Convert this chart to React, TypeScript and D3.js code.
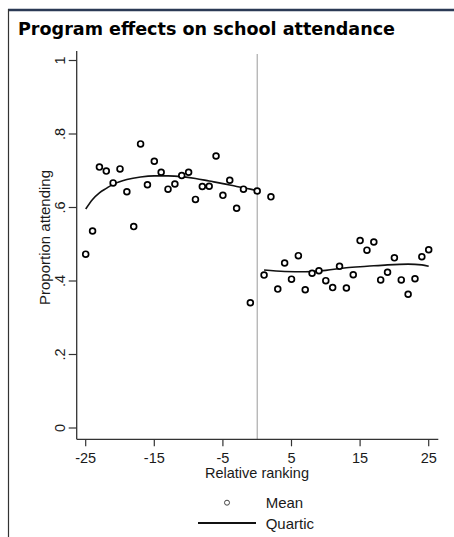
import React from 'react';
import * as d3 from 'd3';

// rank groups and mean attendance
const leftRanks = [-25, -24, -23, -22, -21, -20, -19, -18, -17, -16, -15, -14, -13, -12, -11, -10, -9, -8, -7, -6, -5, -4, -3, -2, -1, 0];
const leftMeans = [0.473, 0.536, 0.71, 0.699, 0.667, 0.705, 0.643, 0.548, 0.773, 0.662, 0.726, 0.696, 0.65, 0.664, 0.687, 0.696, 0.622, 0.657, 0.658, 0.74, 0.633, 0.674, 0.598, 0.65, 0.341, 0.645];

const rightRanks = [1, 2, 3, 4, 5, 6, 7, 8, 9, 10, 11, 12, 13, 14, 15, 16, 17, 18, 19, 20, 21, 22, 23, 24, 25];
const rightMeans = [0.416, 0.629, 0.378, 0.449, 0.405, 0.469, 0.376, 0.421, 0.428, 0.401, 0.382, 0.44, 0.381, 0.417, 0.51, 0.484, 0.506, 0.403, 0.424, 0.463, 0.403, 0.364, 0.406, 0.466, 0.485];

// quartic fit, sampled from the drawn curves
const fitLeftRanks = [-25, -24, -23, -22, -21, -19, -17, -15, -13, -11, -9, -7, -5, -3, -1, 0];
const fitLeftVals = [0.596, 0.622, 0.64, 0.652, 0.663, 0.676, 0.683, 0.686, 0.686, 0.684, 0.679, 0.672, 0.665, 0.657, 0.65, 0.646];
const fitRightRanks = [1, 4, 7, 10, 13, 16, 19, 22, 24, 25];
const fitRightVals = [0.43, 0.426, 0.425, 0.429, 0.436, 0.44, 0.444, 0.446, 0.444, 0.44];

const xTicks = [-25, -15, -5, 5, 15, 25];
const yTicks = [0, 0.2, 0.4, 0.6, 0.8, 1];
const yTickLabels = ['0', '.2', '.4', '.6', '.8', '1'];

const W = 454, H = 537;
const FONT = '"Liberation Sans", Arial, sans-serif';
const INK = '#1a1a1a';

export default function App() {
    const x = d3.scaleLinear().domain([-25, 25]).range([85.7, 428.7]);
    const y = d3.scaleLinear().domain([0, 1]).range([428, 60.5]);

    const plotLeft = 76.7, plotRight = 438.3, plotTop = 51, plotBottom = 439.3;

    const line = d3.line<[number, number]>()
        .x(d => x(d[0]))
        .y(d => y(d[1]))
        .curve(d3.curveMonotoneX);

    const leftPts = leftRanks.map((r, i) => [r, leftMeans[i]] as [number, number]);
    const rightPts = rightRanks.map((r, i) => [r, rightMeans[i]] as [number, number]);
    const fitL = fitLeftRanks.map((r, i) => [r, fitLeftVals[i]] as [number, number]);
    const fitR = fitRightRanks.map((r, i) => [r, fitRightVals[i]] as [number, number]);

    return (
        <svg width={W} height={H} style={{ position: 'absolute', left: 0, top: 0, background: '#fff' }}>
            {/* panel frame */}
            <line x1={8} x2={W} y1={10} y2={10} stroke="#2b3a55" strokeWidth={2.5} />
            <line x1={8.5} x2={8.5} y1={9} y2={H} stroke="#333" strokeWidth={1.2} />

            <text x={18} y={35} fontFamily='"DejaVu Sans", Verdana, sans-serif' fontWeight="bold"
                fontSize={18} textLength={377} lengthAdjust="spacingAndGlyphs" fill="#000">
                Program effects on school attendance
            </text>

            {/* cutoff */}
            <line x1={x(0)} x2={x(0)} y1={plotTop + 3} y2={plotBottom} stroke="#9a9a9a" strokeWidth={1} />

            {/* axes */}
            <line x1={plotLeft} x2={plotLeft} y1={plotTop} y2={plotBottom} stroke="#333" strokeWidth={1.3} />
            <line x1={plotLeft} x2={plotRight} y1={plotBottom} y2={plotBottom} stroke="#333" strokeWidth={1.3} />

            {xTicks.map(t => (
                <g key={t}>
                    <line x1={x(t)} x2={x(t)} y1={plotBottom} y2={plotBottom + 7} stroke="#333" strokeWidth={1.2} />
                    <text x={x(t)} y={462.5} textAnchor="middle" fontFamily={FONT} fontSize={14.5} fill={INK}>{t}</text>
                </g>
            ))}
            {yTicks.map((t, i) => (
                <g key={t}>
                    <line x1={plotLeft - 8} x2={plotLeft} y1={y(t)} y2={y(t)} stroke="#333" strokeWidth={1.2} />
                    <text transform={`translate(65, ${y(t)}) rotate(-90)`} textAnchor="middle"
                        fontFamily={FONT} fontSize={14.5} fill={INK}>{yTickLabels[i]}</text>
                </g>
            ))}

            <text x={257} y={477.5} textAnchor="middle" fontFamily={FONT} fontSize={14.5} fill={INK}>Relative ranking</text>
            <text transform="translate(49.5, 237.5) rotate(-90)" textAnchor="middle"
                fontFamily={FONT} fontSize={15} fill={INK}>Proportion attending</text>

            {/* fitted quartics */}
            <path d={line(fitL) || ''} fill="none" stroke="#111" strokeWidth={1.6} />
            <path d={line(fitR) || ''} fill="none" stroke="#111" strokeWidth={1.6} />

            {/* bin means */}
            {leftPts.concat(rightPts).map((d, i) => (
                <circle key={i} cx={x(d[0])} cy={y(d[1])} r={2.9} fill="#fff" stroke="#000" strokeWidth={1.7} />
            ))}

            {/* legend */}
            <circle cx={227} cy={502.7} r={2.5} fill="#fff" stroke="#444" strokeWidth={1} />
            <text x={265.7} y={508} fontFamily={FONT} fontSize={15} fill={INK}>Mean</text>
            <line x1={198} x2={256} y1={523} y2={523} stroke="#111" strokeWidth={2} />
            <text x={265.7} y={529} fontFamily={FONT} fontSize={15} fill={INK}>Quartic</text>
        </svg>
    );
}
